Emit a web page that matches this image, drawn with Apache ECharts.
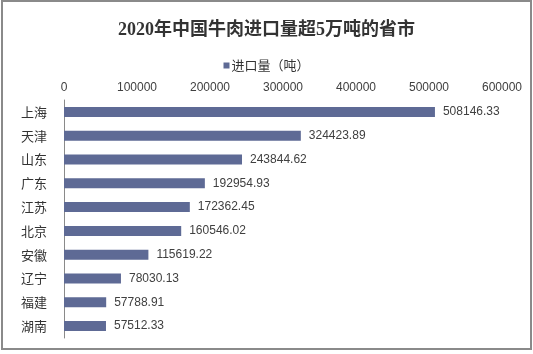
<!DOCTYPE html>
<html>
<head>
<meta charset="utf-8">
<script src="https://cdn.jsdelivr.net/npm/echarts@6/dist/echarts.min.js"></script>
<style>
  html, body { margin: 0; padding: 0; background: #fff; }
  #wrap { position: relative; width: 533px; height: 354px; }
  #chart { width: 533px; height: 354px; }
  #frame {
    position: absolute; left: 1px; top: 0; width: 527px; height: 346px;
    border: 2px solid #8a8a8a; box-sizing: content-box; pointer-events: none;
  }
</style>
</head>
<body>
<div id="wrap">
  <div id="chart"></div>
  <div id="frame"></div>
</div>
<script>
// 2020 beef imports by province (tonnes)
const provinces = ["上海", "天津", "山东", "广东", "江苏", "北京", "安徽", "辽宁", "福建", "湖南"];
const imports = [508146.33, 324423.89, 243844.62, 192954.93, 172362.45, 160546.02, 115619.22, 78030.13, 57788.91, 57512.33];
const seriesName = "进口量（吨）";

const chart = echarts.init(document.getElementById("chart"));

chart.setOption({
  animation: false,
  title: {
    text: "2020年中国牛肉进口量超5万吨的省市",
    left: "center",
    top: 16,
    textStyle: {
      fontFamily: "'Liberation Serif', 'Noto Sans CJK SC', serif",
      fontSize: 18,
      fontWeight: "bold",
      color: "#333"
    }
  },
  legend: {
    top: 54,
    left: "center",
    icon: "rect",
    itemWidth: 6,
    itemHeight: 6,
    itemGap: 2,
    textStyle: {
      fontFamily: "'Noto Sans CJK SC', sans-serif",
      fontSize: 13,
      color: "#333",
      padding: [0, 0, 0, -3]
    },
    data: [seriesName]
  },
  grid: { left: 64, right: 31, top: 100, bottom: 16, containLabel: false },
  xAxis: {
    type: "value",
    position: "top",
    min: 0,
    max: 600000,
    interval: 100000,
    axisLine: { show: false },
    axisTick: { show: false },
    splitLine: { show: false },
    axisLabel: {
      margin: 6,
      fontFamily: "'Liberation Sans', Arial, sans-serif",
      fontSize: 12,
      color: "#404040",
      formatter: (v) => String(v)
    }
  },
  yAxis: {
    type: "category",
    inverse: true,
    data: provinces,
    axisLine: { lineStyle: { color: "#8a8a8a", width: 1 } },
    axisTick: { length: 4, lineStyle: { color: "#8a8a8a" } },
    axisLabel: {
      margin: 17,
      fontFamily: "'Noto Sans CJK SC', sans-serif",
      fontSize: 13,
      color: "#333"
    }
  },
  series: [{
    name: seriesName,
    type: "bar",
    data: imports,
    barWidth: 10,
    itemStyle: { color: "#5e6a95" },
    label: {
      show: true,
      position: "right",
      distance: 8,
      fontFamily: "'Liberation Sans', Arial, sans-serif",
      fontSize: 12,
      color: "#404040",
      formatter: (p) => p.value.toFixed(2)
    }
  }]
});
</script>
</body>
</html>
